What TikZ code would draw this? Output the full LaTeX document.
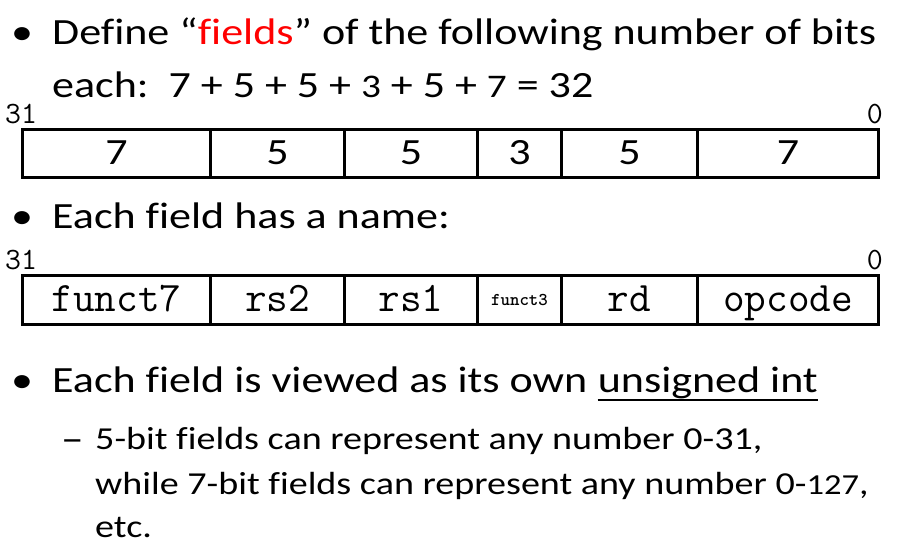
\documentclass[tikz,border=0pt]{standalone}
\usepackage{fontspec}
\setmainfont{Carlito}[FakeStretch=1.19,Ligatures={TeX,CommonOff}]

\begin{document}
\begin{tikzpicture}[x=1pt,y=-1pt,
	body_text/.style={anchor=base west,inner sep=0pt,font=\fontsize{37}{44}\selectfont},
	sub_text/.style={anchor=base west,inner sep=0pt,font=\fontsize{32}{40}\selectfont},
	bit_label/.style={inner sep=0pt,font=\ttfamily\fontsize{31}{31}\selectfont},
	field_cell/.style={draw,line width=3pt,inner sep=0pt,anchor=west,minimum height=48pt,text depth=0pt},
	size_cell/.style={field_cell,text height=22pt,font=\fontsize{37}{37}\selectfont},
	name_cell/.style={field_cell,minimum height=49pt,text height=23pt,font=\ttfamily\fontsize{42}{42}\selectfont}]
	\useasboundingbox (0,0) rectangle (920,544);

	% first bullet
	\node[body_text] (dot_a) at (11,44) {•};
	\node[body_text] (define) at (52,44) {Define “\textcolor{red}{fields}” of the following number of bits};
	\node[body_text] (each) at (52,97) {each:\ \ 7 + 5 + 5 + {\fontsize{33}{33}\selectfont 3} + 5 + {\fontsize{33}{33}\selectfont 7} = 32};

	% bit sizes
	\node[bit_label,anchor=base west] (hi_a) at (5,123) {31};
	\node[bit_label,anchor=base east] (lo_a) at (883,123) {0};
	\node[size_cell,minimum width=188pt] (s_funct7) at (21,153) {7};
	\node[size_cell,minimum width=134pt] (s_rs2) at (209,153) {5};
	\node[size_cell,minimum width=133pt] (s_rs1) at (343,153) {5};
	\node[size_cell,minimum width=84pt] (s_funct3) at (476,153) {3};
	\node[size_cell,minimum width=136pt] (s_rd) at (560,153) {5};
	\node[size_cell,minimum width=181pt] (s_opcode) at (696,153) {7};

	% second bullet
	\node[body_text] (dot_b) at (11,228) {•};
	\node[body_text] (named) at (52,228) {Each field has a name:};

	% field names
	\node[bit_label,anchor=base west] (hi_b) at (5,269) {31};
	\node[bit_label,anchor=base east] (lo_b) at (883,269) {0};
	\node[name_cell,minimum width=188pt] (n_funct7) at (21,299.5) {funct7};
	\node[name_cell,minimum width=134pt] (n_rs2) at (209,299.5) {rs2};
	\node[name_cell,minimum width=133pt] (n_rs1) at (343,299.5) {rs1};
	\node[field_cell,minimum width=84pt,minimum height=49pt,text height=11pt,font=\ttfamily\bfseries\fontsize{18}{18}\selectfont] (n_funct3) at (476,299.5) {funct3};
	\node[name_cell,minimum width=136pt] (n_rd) at (560,299.5) {rd};
	\node[name_cell,minimum width=181pt] (n_opcode) at (696,299.5) {opcode};

	% third bullet
	\node[body_text] (dot_c) at (11,392) {•};
	\node[body_text] (viewed) at (52,392) {Each field is viewed as its own};
	\node[body_text] (uint) at ([xshift=10pt]viewed.base east) {unsigned int};
	\draw[line width=2.5pt] ([yshift=-8pt]uint.base west) -- ([yshift=-8pt]uint.base east);
	\node[sub_text,font=\fontsize{38}{40}\selectfont] (dash) at (61,451) {–};
	\node[sub_text] (five) at (95,449) {5-bit fields can represent any number 0-31,};
	\node[sub_text] (seven) at (95,494) {while 7-bit fields can represent any number 0-{\fontsize{29}{29}\selectfont 127},};
	\node[sub_text] (etc) at (95,537) {etc.};
\end{tikzpicture}
\end{document}
